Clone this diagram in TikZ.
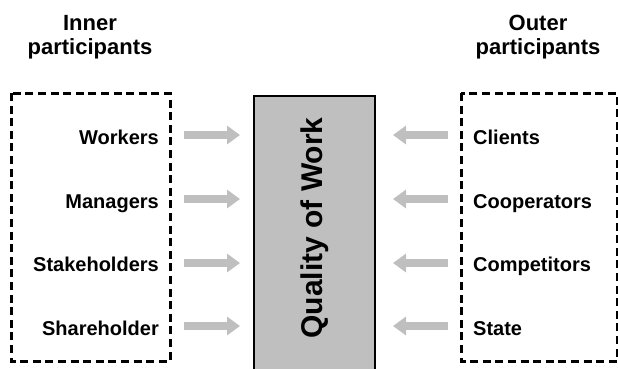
\documentclass[tikz,border=0pt]{standalone}
\usepackage{fontspec}
\setmainfont{Liberation Sans}
\usetikzlibrary{arrows.meta}

\begin{document}
\begin{tikzpicture}[
		x=1pt, y=-1pt,
		every node/.style={font=\bfseries\fontsize{20}{24}\selectfont, inner sep=0pt},
		head/.style={align=center, font=\bfseries\fontsize{22}{24}\selectfont},
		group/.style={draw, line width=3pt, dash pattern=on 8pt off 4.6pt},
		flow/.style={draw=black!25, line width=8pt, -{Triangle[length=13pt, width=18pt]}}
	]
  \clip (0,0) rectangle (618,368);
  % the two groups of participants
  \draw[group] (11,93) rectangle (170,361);
  \draw[group] (461,93) rectangle (617,361);
  \node (inner) [head] at (90,37) {Inner\\participants};
  \node (outer) [head] at (538,37) {Outer\\participants};
  % centre box
  \draw[fill=black!25, line width=1.5pt] (254,96) rectangle (375,380);
  \node (qow) [rotate=90, font=\bfseries\fontsize{30}{30}\selectfont] at (315,228) {Quality of Work};
  % inner side
  \node (workers) [anchor=base east] at (159,144) {Workers};
  \node (managers) [anchor=base east] at (159,208) {Managers};
  \node (stake) [anchor=base east] at (159,271) {Stakeholders};
  \node (share) [anchor=base east] at (159,335) {Shareholder};
  % outer side
  \node (clients) [anchor=base west] at (473,144) {Clients};
  \node (coop) [anchor=base west] at (473,208) {Cooperators};
  \node (comp) [anchor=base west] at (473,271) {Competitors};
  \node (state) [anchor=base west] at (473,335) {State};
  % arrows
  \coordinate (in1) at (184,135);
  \coordinate (in2) at (184,199);
  \coordinate (in3) at (184,263);
  \coordinate (in4) at (184,326);
  \coordinate (out1) at (448,135);
  \coordinate (out2) at (448,199);
  \coordinate (out3) at (448,263);
  \coordinate (out4) at (448,326);
  \draw[flow] (in1) -- (240,135);
  \draw[flow] (in2) -- (240,199);
  \draw[flow] (in3) -- (240,263);
  \draw[flow] (in4) -- (240,326);
  \draw[flow] (out1) -- (393,135);
  \draw[flow] (out2) -- (393,199);
  \draw[flow] (out3) -- (393,263);
  \draw[flow] (out4) -- (393,326);
\end{tikzpicture}
\end{document}
